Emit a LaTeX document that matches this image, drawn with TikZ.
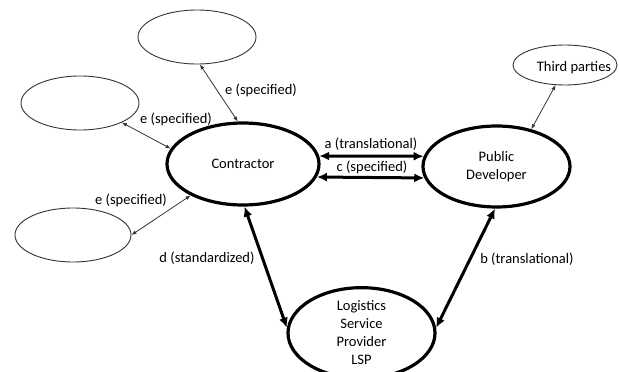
\documentclass[tikz,border=0pt]{standalone}
\usepackage{fontspec}
\setmainfont{Carlito}
\usetikzlibrary{shapes.geometric,arrows.meta}
\begin{document}
\begin{tikzpicture}[x=1pt,y=-1pt,
  every node/.style={font=\fontsize{14.5}{18}\selectfont},
  bigell/.style={ellipse,draw,line width=3.2pt,inner sep=0pt,align=center},
  smallell/.style={ellipse,draw,line width=0.9pt,inner sep=0pt,draw=black!80},
  thickarr/.style={line width=3pt,{Latex[length=10pt,width=9pt]}-{Latex[length=10pt,width=9pt]}},
  thinarr/.style={line width=0.8pt,draw=black!80,{Latex[length=5pt,width=4pt]}-{Latex[length=5pt,width=4pt]}},
  lab/.style={inner sep=0pt}]
\useasboundingbox (0,0) rectangle (619,372);
% main ellipses
\node[bigell,minimum width=152pt,minimum height=82pt] (C) at (243,164) {Contractor};
\node[bigell,minimum width=147pt,minimum height=81pt] (P) at (496.5,166.5) {Public\\Developer};
\node[bigell,minimum width=147pt,minimum height=80pt] (L) at (361.5,333) {Logistics\\Service\\Provider\\LSP};
% small ellipses
\node[smallell,minimum width=118pt,minimum height=54pt] (T) at (197,37) {};
\node[smallell,minimum width=118pt,minimum height=54pt] (M) at (80,103) {};
\node[smallell,minimum width=116pt,minimum height=54pt] (B) at (73,235) {};
\node[smallell,minimum width=104pt,minimum height=40pt,label={[xshift=9pt,yshift=-3pt]center:Third parties}] (TP) at (565,65) {};
% thick connectors
\draw[thickarr] (C.6) -- (P.172);
\draw[thickarr] (C.-10) -- (P.-171);
\draw[thickarr] (C.-88) -- (L.176);
\draw[thickarr] (P.-92) -- (L.4);
% thin connectors
\draw[thinarr] (C.97) -- (T.-84);
\draw[thinarr] (C.168) -- (M.-25);
\draw[thinarr] (C.211) -- (B.east);
\draw[thinarr] (P.47) -- (TP.-115);
% labels
\node[lab] (la) at (371,144) {a (translational)};
\node[lab] (lc) at (372,167) {c (specified)};
\node[lab] (ld) at (207,258) {d (standardized)};
\node[lab] (lb) at (527,259) {b (translational)};
\node[lab] (le1) at (261,90) {e (specified)};
\node[lab] (le2) at (176,119) {e (specified)};
\node[lab] (le3) at (131,200) {e (specified)};
\end{tikzpicture}
\end{document}
